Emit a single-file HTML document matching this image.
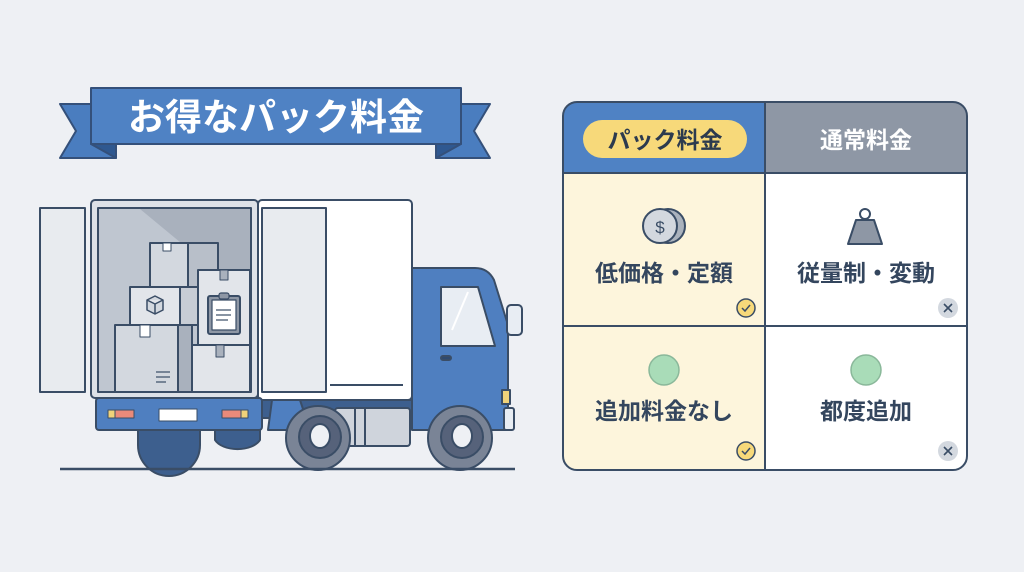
<!DOCTYPE html>
<html><head><meta charset="utf-8"><style>
html,body{margin:0;padding:0;background:#eef0f4;}
svg{display:block;font-family:"Liberation Sans","Noto Sans CJK JP",sans-serif;}
</style></head><body>
<svg width="1024" height="572" viewBox="0 0 1024 572" xmlns="http://www.w3.org/2000/svg">
<rect width="1024" height="572" fill="#eef0f4"/>
<!-- banner -->
<g stroke="#34507a" stroke-width="2" stroke-linejoin="round">
<polygon points="60,104 116,104 116,158 60,158 76,131" fill="#4a7dbf"/>
<polygon points="490,104 436,104 436,158 490,158 474,131" fill="#4a7dbf"/>
<polygon points="91,144 116,158 116,144" fill="#2f5890"/>
<polygon points="461,144 436,158 436,144" fill="#2f5890"/>
<rect x="91" y="88" width="370" height="56" fill="#4f82c4"/>
</g>
<text x="276" y="130" font-size="37" font-weight="bold" fill="#fff" text-anchor="middle">お得なパック料金</text>

<!-- truck -->
<g stroke="#3a4d66" stroke-width="2" stroke-linejoin="round">
<path d="M138,428 L138,445 A31,31 0 0 0 200,445 L200,428 Z" fill="#3d5f8e"/>
<path d="M215,428 L215,440 A24,14 0 0 0 260,440 L260,428 Z" fill="#3d5f8e"/>
<rect x="258" y="200" width="154" height="200" rx="4" fill="#fff"/>
<line x1="330" y1="385" x2="403" y2="385"/>
<rect x="255" y="400" width="175" height="18" fill="#3d5f8e"/>
<rect x="335" y="408" width="75" height="38" rx="3" fill="#cfd4dc"/>
<line x1="355" y1="408" x2="355" y2="446"/><line x1="365" y1="408" x2="365" y2="446"/>
<path d="M272,400 L300,400 L310,430 L268,430 Z" fill="#4f7fc0"/>
<path d="M412,268 L475,268 Q488,268 494,280 L508,325 L508,430 L412,430 Z" fill="#4f7fc0"/>
<path d="M441,287 L478,287 L495,346 L441,346 Z" fill="#e8edf3"/>
<line x1="452" y1="330" x2="468" y2="292" stroke="#fff" stroke-width="2"/>
<rect x="441" y="356" width="10" height="4" rx="2" fill="#2f4a70"/>
<rect x="502" y="390" width="8" height="14" fill="#f0d27a"/>
<rect x="504" y="408" width="10" height="22" rx="2" fill="#e8edf3"/>
<rect x="507" y="305" width="15" height="30" rx="4" fill="#e8edf3"/>
<circle cx="318" cy="438" r="32" fill="#7a8496"/>
<circle cx="320" cy="437" r="21" fill="#56627a"/>
<ellipse cx="320" cy="436" rx="10" ry="12" fill="#eef0f4"/>
<circle cx="460" cy="438" r="32" fill="#7a8496"/>
<circle cx="462" cy="437" r="21" fill="#56627a"/>
<ellipse cx="462" cy="436" rx="10" ry="12" fill="#eef0f4"/>
<rect x="96" y="398" width="166" height="32" rx="3" fill="#4f7fc0"/>
<rect x="108" y="410" width="7" height="8" fill="#f0d27a" stroke-width="1"/>
<rect x="115" y="410" width="19" height="8" fill="#ea8a7a" stroke-width="1"/>
<rect x="159" y="409" width="38" height="12" fill="#fff" stroke-width="1"/>
<rect x="222" y="410" width="19" height="8" fill="#ea8a7a" stroke-width="1"/>
<rect x="241" y="410" width="7" height="8" fill="#f0d27a" stroke-width="1"/>
<rect x="40" y="208" width="45" height="184" fill="#e8ebef"/>
<rect x="262" y="208" width="64" height="184" fill="#e8ebef"/>
<rect x="91" y="200" width="167" height="198" rx="4" fill="#dde1e7"/>
<rect x="98" y="208" width="153" height="184" fill="#a9b1bd"/>
<polygon points="99,209 140,209 250,300 250,391 99,391" fill="#bfc6d0" stroke="none"/>
<rect x="150" y="243" width="38" height="44" fill="#d3d8df"/>
<rect x="188" y="243" width="30" height="44" fill="#b8bfc9"/>
<rect x="163" y="243" width="8" height="8" fill="#fff" stroke-width="1"/>
<rect x="130" y="287" width="50" height="38" fill="#e2e5ea"/>
<rect x="180" y="287" width="20" height="38" fill="#c8cdd5"/>
<path d="M147,300 L155,296 L163,300 L163,310 L155,314 L147,310 Z M147,300 L155,304 L163,300 M155,304 L155,314" fill="#d3d8df" stroke-width="1.5"/>
<rect x="198" y="270" width="52" height="75" fill="#e2e5ea"/>
<rect x="220" y="270" width="8" height="10" fill="#a9b1bd" stroke-width="1"/>
<rect x="208" y="296" width="32" height="38" rx="2" fill="#8e97a5"/>
<rect x="212" y="300" width="24" height="30" fill="#fff" stroke-width="1.2"/>
<rect x="219" y="293" width="10" height="6" rx="2" fill="#8e97a5" stroke-width="1.2"/>
<line x1="216" y1="310" x2="231" y2="310" stroke-width="1.2"/><line x1="216" y1="315" x2="231" y2="315" stroke-width="1.2"/><line x1="216" y1="320" x2="228" y2="320" stroke-width="1.2"/>
<rect x="115" y="325" width="63" height="67" fill="#d3d8df"/>
<rect x="178" y="325" width="14" height="67" fill="#a9b1bd"/>
<rect x="140" y="325" width="10" height="12" fill="#fff" stroke-width="1"/>
<line x1="156" y1="372" x2="170" y2="372" stroke-width="1.2"/><line x1="156" y1="377" x2="170" y2="377" stroke-width="1.2"/><line x1="156" y1="382" x2="166" y2="382" stroke-width="1.2"/>
<rect x="192" y="345" width="58" height="47" fill="#e2e5ea"/>
<rect x="216" y="345" width="8" height="12" fill="#a9b1bd" stroke-width="1"/>
<line x1="60" y1="469" x2="515" y2="469" stroke-width="2.5"/>
</g>

<!-- table -->
<defs><clipPath id="c"><rect x="563" y="102" width="404" height="368" rx="14"/></clipPath></defs>
<g clip-path="url(#c)">
<rect x="563" y="102" width="202" height="71" fill="#4f82c4"/>
<rect x="765" y="102" width="202" height="71" fill="#8e97a5"/>
<rect x="563" y="173" width="202" height="297" fill="#fdf5dc"/>
<rect x="765" y="173" width="202" height="297" fill="#fff"/>
</g>
<g stroke="#3a4d66" stroke-width="2" fill="none">
<rect x="563" y="102" width="404" height="368" rx="14"/>
<line x1="563" y1="173" x2="967" y2="173"/>
<line x1="765" y1="102" x2="765" y2="470"/>
<line x1="563" y1="326" x2="967" y2="326"/>
</g>
<rect x="583" y="120" width="164" height="38" rx="19" fill="#f7d97a"/>
<text x="665" y="148" font-size="23" font-weight="bold" fill="#2c3a4e" text-anchor="middle">パック料金</text>
<text x="866" y="148" font-size="23" font-weight="bold" fill="#fff" text-anchor="middle">通常料金</text>
<g stroke="#3a4d66" stroke-width="2">
<circle cx="668" cy="226" r="17" fill="#aab2bd"/>
<circle cx="660" cy="226" r="17" fill="#d3d8df"/>
</g>
<text x="660" y="233" font-size="17" fill="#3a4d66" text-anchor="middle">$</text>
<g stroke="#3a4d66" stroke-width="2">
<circle cx="865" cy="214" r="5" fill="#fff"/>
<path d="M856,220 L874,220 L882,244 L848,244 Z" fill="#8e97a5" stroke-linejoin="round"/>
</g>
<g font-size="23" font-weight="bold" fill="#34465e" text-anchor="middle">
<text x="664" y="281">低価格・定額</text>
<text x="866" y="281">従量制・変動</text>
<text x="664" y="419">追加料金なし</text>
<text x="866" y="419">都度追加</text>
</g>
<circle cx="664" cy="370" r="15" fill="#a9dcb8" stroke="#8ab89a" stroke-width="1.5"/>
<circle cx="866" cy="370" r="15" fill="#a9dcb8" stroke="#8ab89a" stroke-width="1.5"/>
<g stroke="#3a4d66" stroke-width="1.5">
<circle cx="746" cy="308" r="9" fill="#f7d97a"/>
<circle cx="746" cy="451" r="9" fill="#f7d97a"/>
</g>
<path d="M742,308 L745,311 L750,305 M742,451 L745,454 L750,448" stroke="#3a4d66" stroke-width="1.5" fill="none"/>
<circle cx="948" cy="308" r="10" fill="#d3d8df"/>
<circle cx="948" cy="451" r="10" fill="#d3d8df"/>
<path d="M944,304 L952,312 M952,304 L944,312 M944,447 L952,455 M952,447 L944,455" stroke="#3a4d66" stroke-width="1.6"/>
</svg>
</body></html>
